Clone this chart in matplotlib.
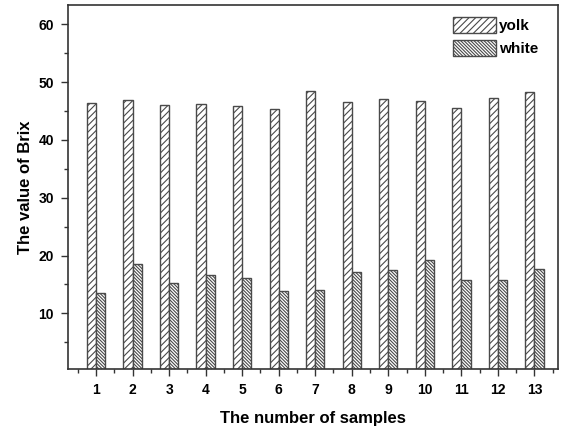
import numpy as np
import matplotlib.pyplot as plt
import matplotlib as mpl
from matplotlib.ticker import MultipleLocator

mpl.rcParams['font.family'] = 'Liberation Sans'
mpl.rcParams['font.weight'] = 'bold'
mpl.rcParams['hatch.linewidth'] = 0.8

samples = np.arange(1, 14)
yolk = [46.4, 46.9, 46.1, 46.2, 45.8, 45.3, 48.4, 46.6, 47.1, 46.8, 45.6, 47.3, 48.2]
white = [13.5, 18.6, 15.3, 16.7, 16.1, 13.8, 14.0, 17.2, 17.5, 19.2, 15.7, 15.7, 17.6]

w = 0.25
fig = plt.figure(figsize=(5.61, 4.28), dpi=100)
ax = fig.add_axes([0.121, 0.138, 0.874, 0.85])

ax.bar(samples - w/2, yolk, w, facecolor='white', edgecolor='#4a4a4a',
       linewidth=1.0, hatch='/////', label='yolk')
ax.bar(samples + w/2, white, w, facecolor='white', edgecolor='#4a4a4a',
       linewidth=1.0, hatch='\\' * 10, label='white')

ax.set_xlim(0.23, 13.65)
ax.set_ylim(0.4, 63.3)
ax.set_xticks(samples)
ax.set_yticks([10, 20, 30, 40, 50, 60])
ax.xaxis.set_minor_locator(MultipleLocator(1, offset=0.5))
ax.yaxis.set_minor_locator(MultipleLocator(5))
ax.tick_params(which='major', direction='out', length=5, width=1, labelsize=10,
               color='#333', pad=5)
ax.tick_params(which='minor', direction='out', length=3, width=1, color='#333')
for s in ax.spines.values():
    s.set_linewidth(1.2)
    s.set_color('#333')

ax.set_xlabel('The number of samples', fontsize=12, fontweight='bold', labelpad=10)
ax.set_ylabel('The value of Brix', fontsize=12, fontweight='bold', labelpad=4)

leg = ax.legend(loc='upper right', frameon=False, fontsize=11,
                handlelength=2.8, handleheight=1.2, handletextpad=0.25,
                labelspacing=0.45, borderaxespad=0.4,
                bbox_to_anchor=(0.985, 1.0))

fig.savefig('out.png', dpi=100)
